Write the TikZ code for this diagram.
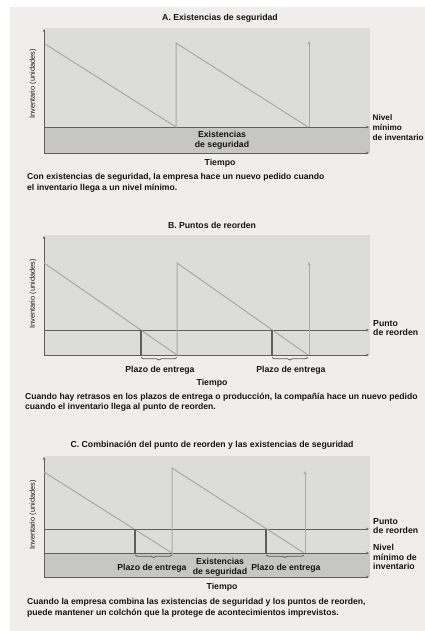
\documentclass[tikz,border=0pt]{standalone}
\usepackage{fontspec}
\setmainfont{Liberation Sans}
\usetikzlibrary{arrows.meta,decorations.pathreplacing}
\definecolor{bgc}{HTML}{EFEEEC}
\definecolor{plotc}{HTML}{DCDCDB}
\definecolor{bandc}{HTML}{C6C6C5}
\definecolor{sawc}{HTML}{A8A8A8}
\definecolor{axc}{HTML}{5E5E5E}
\definecolor{txc}{HTML}{151515}
\tikzset{
  txt/.style={font=\fontsize{8.7}{9.8}\selectfont\bfseries, text=txc, inner sep=0pt},
  captxt/.style={font=\fontsize{8.6}{10.6}\selectfont\bfseries, text=txc, inner sep=0pt},
  ylab/.style={font=\fontsize{7.4}{8}\selectfont, text=txc, inner sep=0pt, rotate=90},
  axisline/.style={draw=axc, line width=0.9pt, -{Stealth[length=3pt,width=2.5pt]}},
  refline/.style={draw=axc, line width=0.9pt, -{Stealth[length=3pt,width=2.5pt]}},
  saw/.style={draw=sawc, line width=1pt},
  sawarrow/.style={draw=sawc, line width=1pt, -{Stealth[length=3.5pt,width=3pt]}},
  leadline/.style={draw=axc, line width=1.4pt},
  bracestyle/.style={draw=axc, line width=0.7pt, decorate, decoration={brace, mirror, amplitude=2.5pt}},
}
\begin{document}
\begin{tikzpicture}[x=1pt,y=-1pt]
\useasboundingbox (0,0) rectangle (425,631);
\fill[white] (0,0) rectangle (425,631);
\fill[bgc] (10,7) rectangle (425,631);

% ---------------- Panel A ----------------
\node[txt] (tA) at (220,18) {A. Existencias de seguridad};
\fill[plotc] (44,28) rectangle (370,153);
\fill[bandc] (44,127) rectangle (370,153);
\coordinate (A0) at (44,153);
\coordinate (Ay) at (44,29);
\coordinate (Ax) at (369,153);
\coordinate (Am0) at (44,127);
\coordinate (Am) at (369,127);
\draw[axisline] (A0) -- (Ay);
\draw[axisline] (A0) -- (Ax);
\draw[refline] (Am0) -- (Am);
\coordinate (As1) at (45,44);
\coordinate (As2) at (176,127);
\coordinate (As3) at (176,43);
\coordinate (As4) at (308,127);
\coordinate (As5) at (309,127);
\coordinate (As6) at (309,41);
\draw[saw] (As1) -- (As2) -- (As3) -- (As4);
\draw[sawarrow] (As5) -- (As6);
\node[ylab] (yA) at (33,84) {Inventario (unidades)};
\node[txt, align=center] (eA) at (222,140.5) {Existencias\\de seguridad};
\node[txt, font=\fontsize{8.2}{9.6}\selectfont\bfseries, align=left, anchor=west] (nA) at (372.5,127.5) {Nivel\\mínimo\\de inventario};
\node[txt] (tiA) at (220,163) {Tiempo};
\node[captxt, align=left, anchor=north west] (cA) at (27,173.5) {Con existencias de seguridad, la empresa hace un nuevo pedido cuando\\el inventario llega a un nivel mínimo.};

% ---------------- Panel B ----------------
\node[txt] (tB) at (212,225) {B. Puntos de reorden};
\fill[plotc] (44,235) rectangle (370,355);
\coordinate (B0) at (44,355);
\coordinate (By) at (44,236);
\coordinate (Bx) at (369,355);
\coordinate (Br0) at (44,330);
\coordinate (Br) at (369,330);
\draw[axisline] (B0) -- (By);
\draw[axisline] (B0) -- (Bx);
\draw[refline] (Br0) -- (Br);
\coordinate (Bs1) at (44,263);
\coordinate (Bs2) at (177,355);
\coordinate (Bs3) at (177,263);
\coordinate (Bs4) at (308,355);
\coordinate (Bs5) at (309,355);
\coordinate (Bs6) at (309,262);
\draw[saw] (Bs1) -- (Bs2) -- (Bs3) -- (Bs4);
\draw[sawarrow] (Bs5) -- (Bs6);
\coordinate (Bl1t) at (141,330);
\coordinate (Bl1b) at (141,355);
\coordinate (Bl2t) at (272,330);
\coordinate (Bl2b) at (272,355);
\draw[leadline] (Bl1t) -- (Bl1b);
\draw[leadline] (Bl2t) -- (Bl2b);
\coordinate (Bb1a) at (141,357.5);
\coordinate (Bb1b) at (177,357.5);
\coordinate (Bb2a) at (272,357.5);
\coordinate (Bb2b) at (308,357.5);
\draw[bracestyle] (Bb1a) -- (Bb1b);
\draw[bracestyle] (Bb2a) -- (Bb2b);
\node[txt] (pB1) at (160,370) {Plazo de entrega};
\node[txt] (pB2) at (291,370) {Plazo de entrega};
\node[txt, align=left, anchor=west] (rB) at (373,328) {Punto\\de reorden};
\node[ylab] (yB) at (33,294) {Inventario (unidades)};
\node[txt] (tiB) at (212,383) {Tiempo};
\node[captxt, align=left, anchor=north west] (cB) at (25,392.5) {Cuando hay retrasos en los plazos de entrega o producción, la compañía hace un nuevo pedido\\cuando el inventario llega al punto de reorden.};

% ---------------- Panel C ----------------
\node[txt] (tC) at (212,445) {C. Combinación del punto de reorden y las existencias de seguridad};
\fill[plotc] (44,456) rectangle (370,577);
\fill[bandc] (44,553) rectangle (370,577);
\coordinate (C0) at (44,577);
\coordinate (Cy) at (44,457);
\coordinate (Cx) at (369,577);
\coordinate (Cr0) at (44,529);
\coordinate (Cr) at (369,529);
\coordinate (Cm0) at (44,553);
\coordinate (Cm) at (369,553);
\draw[axisline] (C0) -- (Cy);
\draw[axisline] (C0) -- (Cx);
\draw[refline] (Cr0) -- (Cr);
\draw[refline] (Cm0) -- (Cm);
\coordinate (Cs1) at (44,472);
\coordinate (Cs2) at (172,553);
\coordinate (Cs3) at (172,468);
\coordinate (Cs4) at (304,553);
\coordinate (Cs5) at (305,553);
\coordinate (Cs6) at (305,471);
\draw[saw] (Cs1) -- (Cs2) -- (Cs3) -- (Cs4);
\draw[sawarrow] (Cs5) -- (Cs6);
\coordinate (Cl1t) at (135,529);
\coordinate (Cl1b) at (135,553);
\coordinate (Cl2t) at (266,529);
\coordinate (Cl2b) at (266,553);
\draw[leadline] (Cl1t) -- (Cl1b);
\draw[leadline] (Cl2t) -- (Cl2b);
\coordinate (Cb1a) at (135,555);
\coordinate (Cb1b) at (172,555);
\coordinate (Cb2a) at (266,555);
\coordinate (Cb2b) at (304,555);
\draw[bracestyle] (Cb1a) -- (Cb1b);
\draw[bracestyle] (Cb2a) -- (Cb2b);
\node[txt] (pC1) at (152,568) {Plazo de entrega};
\node[txt, align=center] (eC) at (220,567) {Existencias\\de seguridad};
\node[txt] (pC2) at (286,568) {Plazo de entrega};
\node[txt, align=left, anchor=west] (rC) at (373,526) {Punto\\de reorden};
\node[txt, align=left, anchor=west] (nC) at (373,557) {Nivel\\mínimo de\\inventario};
\node[ylab] (yC) at (33,515) {Inventario (unidades)};
\node[txt] (tiC) at (222,587) {Tiempo};
\node[captxt, align=left, anchor=north west] (cC) at (27,598.5) {Cuando la empresa combina las existencias de seguridad y los puntos de reorden,\\puede mantener un colchón que la protege de acontecimientos imprevistos.};
\end{tikzpicture}
\end{document}
